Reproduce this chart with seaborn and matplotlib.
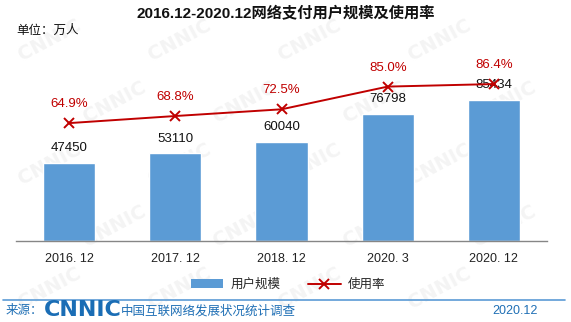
import numpy as np
import pandas as pd
import matplotlib
matplotlib.use("Agg")
import matplotlib.pyplot as plt
from matplotlib.patches import Patch
from matplotlib.lines import Line2D
import seaborn as sns

categories = ["2016. 12", "2017. 12", "2018. 12", "2020. 3", "2020. 12"]
users = [47450, 53110, 60040, 76798, 85434]
usage_rate = [64.9, 68.8, 72.5, 85.0, 86.4]
title = "2016.12-2020.12网络支付用户规模及使用率"
unit_label = "单位：万人"
legend_labels = ["用户规模", "使用率"]
source_label = "来源："
source_org = "中国互联网络发展状况统计调查"
date_label = "2020.12"

sns.set_theme(style="white")
FAM = ["Liberation Sans", "Noto Sans CJK SC", "DejaVu Sans"]
plt.rcParams["font.family"] = FAM

BAR = "#5B9BD5"
RED = "#C00000"
FOOT = "#1F6FB5"

W, H = 571, 322
fig = plt.figure(figsize=(W / 100, H / 100), dpi=100)
fig.patch.set_facecolor("white")

# faint watermark (kept fully inside the figure)
for row, yy in enumerate(range(40, 300, 62)):
    off = 0 if row % 2 == 0 else 65
    for xx in range(50, 560, 130):
        cx = xx + off
        if cx > 530:
            continue
        fig.text(cx / W, 1 - yy / H, "CNNIC", fontsize=14, fontweight="bold",
                 color="#F4F4F4", rotation=28, ha="center", va="center", zorder=-10,
                 family=["DejaVu Sans"])

ax = fig.add_axes([16 / W, 1 - 241 / H, 531 / W, 198 / H])
ax.set_facecolor("none")
ax.set_zorder(1)
df = pd.DataFrame({"cat": categories, "users": users, "rate": usage_rate})
sns.barplot(data=df, x="cat", y="users", color=BAR, width=0.49, saturation=1, ax=ax, zorder=2)
ax.set_xlim(-0.5, len(categories) - 0.5)
ax.set_ylim(0, 120000)
ax.set_xlabel("")
ax.set_ylabel("")
ax.set_yticks([])
for s in ["top", "right", "left"]:
    ax.spines[s].set_visible(False)
ax.spines["bottom"].set_color("#868686")
ax.spines["bottom"].set_linewidth(1.0)
ax.tick_params(axis="x", which="major", length=0, pad=9, labelsize=9, labelcolor="#222222")
ax.set_xticks(np.arange(-0.5, len(categories), 1.0), minor=True)
ax.tick_params(axis="x", which="minor", direction="in", length=5, color="#868686", width=1)

for i, v in enumerate(users):
    ax.text(i, v + 9000, f"{v}", ha="center", va="center", fontsize=9.5, color="#111111")

ax2 = ax.twinx()
ax2.set_facecolor("none")
pos = np.arange(len(categories))
rate_frac = [r / 100 for r in usage_rate]
sns.lineplot(x=pos, y=rate_frac, ax=ax2, color=RED, linewidth=1.4, marker="x",
             markersize=7, markeredgewidth=1.4, markeredgecolor=RED, zorder=3)
ax2.set_ylim(0, 1.09)
ax2.set_yticks([])
ax2.set_ylabel("")
for s in ["top", "right", "left", "bottom"]:
    ax2.spines[s].set_visible(False)
for i, r in enumerate(usage_rate):
    ax2.text(i, r / 100 + 0.105, f"{r:.1f}%", ha="center", va="center", fontsize=9.5, color=RED)

fig.text(0.5, 1 - 14 / H, title, ha="center", va="center", fontsize=11, fontweight="bold",
         color="#111111")
fig.text(16 / W, 1 - 31 / H, unit_label, ha="left", va="center", fontsize=9, color="#111111")

handles = [Patch(facecolor=BAR, edgecolor="none"),
           Line2D([0], [0], color=RED, lw=1.4, marker="x", markersize=7, markeredgewidth=1.4)]
fig.legend(handles, legend_labels, loc="center", bbox_to_anchor=(288 / W, 1 - 285 / H), ncol=2,
           frameon=False, fontsize=9, handlelength=2.6, handleheight=0.7, columnspacing=2.2,
           handletextpad=0.6)

fig.add_artist(Line2D([3 / W, 565 / W], [1 - 300 / H, 1 - 300 / H], color=BAR, lw=1.2))
fig.text(6 / W, 1 - 311 / H, source_label, ha="left", va="center", fontsize=9, color=FOOT)
fig.text(44 / W, 1 - 310 / H, "CNNIC", ha="left", va="center", fontsize=16, fontweight="heavy",
         color="#1A6DB5", family=["DejaVu Sans"])
fig.text(121 / W, 1 - 311 / H, source_org, ha="left", va="center", fontsize=9, color=FOOT)
fig.text(538 / W, 1 - 311 / H, date_label, ha="right", va="center", fontsize=9, color=FOOT)

fig.savefig("out.png", dpi=100, facecolor="white")
